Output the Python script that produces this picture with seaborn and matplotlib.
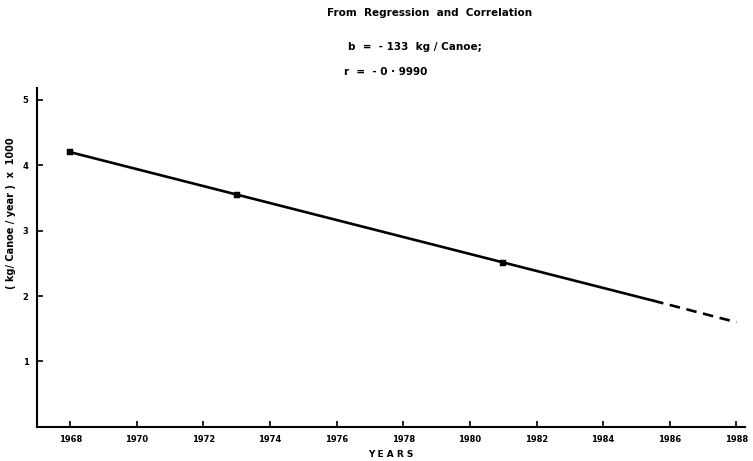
import matplotlib
matplotlib.use("Agg")
import matplotlib.pyplot as plt
import seaborn as sns
import pandas as pd

# Observed points
years = [1968, 1973, 1981]
values = [4.2, 3.55, 2.5]
# Regression line (solid) and extrapolation (dashed)
fit_years = [1968, 1985.5]
fit_values = [4.2, 1.93]
ext_years = [1985.5, 1988]
ext_values = [1.93, 1.6]
xticks = [1968, 1970, 1972, 1974, 1976, 1978, 1980, 1982, 1984, 1986, 1988]
yticks = [1, 2, 3, 4, 5]

sns.set_style("ticks")
plt.rcParams['font.family'] = ['DejaVu Sans']
plt.rcParams.update({"text.color": "black", "axes.labelcolor": "black",
                     "xtick.color": "black", "ytick.color": "black",
                     "axes.edgecolor": "black"})

fig = plt.figure(figsize=(7.53, 4.61), dpi=100)
ax = fig.add_axes([0.049, 0.074, 0.940, 0.735])

sns.lineplot(x=fit_years, y=fit_values, ax=ax, color="black", linewidth=1.9)
sns.lineplot(x=ext_years, y=ext_values, ax=ax, color="black", linewidth=1.9,
             linestyle=(0, (4, 2.5)))
sns.scatterplot(x=years, y=values, ax=ax, color="black", marker="s", s=16,
                edgecolor="black", zorder=5)

ax.set_xlim(1967, 1988.25)
ax.set_ylim(0, 5.18)
ax.set_xticks(xticks)
ax.set_yticks(yticks)
ax.set_xticklabels([str(t) for t in xticks], fontsize=6, fontweight="heavy")
ax.set_yticklabels([str(t) for t in yticks], fontsize=6, fontweight="heavy")
ax.tick_params(direction="in", length=4, width=1.2, pad=6)
for s in ["top", "right"]:
    ax.spines[s].set_visible(False)
for s in ["left", "bottom"]:
    ax.spines[s].set_linewidth(1.5)

ax.set_xlabel("Y E A R S", fontsize=6.5, fontweight="heavy", labelpad=4)
ax.set_ylabel("( kg/ Canoe / year )  x  1000", fontsize=7, fontweight="heavy")
ax.yaxis.set_label_coords(-0.03, 0.63)

fig.text(0.571, 0.972, "From  Regression  and  Correlation", fontsize=7.5,
         fontweight="heavy", ha="center", va="center")
fig.text(0.462, 0.898, "b  =  - 133  kg / Canoe;", fontsize=7.5,
         fontweight="heavy", ha="left", va="center")
fig.text(0.457, 0.843, "r  =  - 0 · 9990", fontsize=7.5,
         fontweight="heavy", ha="left", va="center")

fig.savefig("out.png", dpi=100)
